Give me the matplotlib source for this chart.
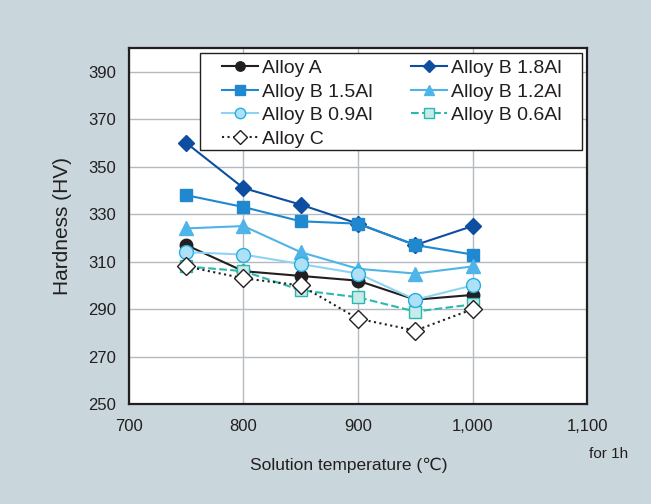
import matplotlib.pyplot as plt
from matplotlib.patches import Rectangle

plt.rcParams['font.family'] = ['Liberation Sans', 'DejaVu Sans']

# solution temperature (C)
temps = [750, 800, 850, 900, 950, 1000]

# hardness (HV)
alloy_a = [317, 306, 304, 302, 294, 296]
alloy_b18 = [360, 341, 334, 326, 317, 325]
alloy_b15 = [338, 333, 327, 326, 317, 313]
alloy_b12 = [324, 325, 314, 307, 305, 308]
alloy_b09 = [314, 313, 309, 305, 294, 300]
alloy_b06 = [308, 306, 298, 295, 289, 292]
alloy_c = [308, 303, 300, 286, 281, 290]

xticks = [700, 800, 900, 1000, 1100]
xticklabels = ['700', '800', '900', '1,000', '1,100']
yticks = [250, 270, 290, 310, 330, 350, 370, 390]

bg = '#c9d6dc'
txt = '#231f20'

fig = plt.figure(figsize=(6.51, 5.04), dpi=100, facecolor=bg)
ax = fig.add_axes([0.198, 0.198, 0.704, 0.707])
ax.set_facecolor('white')

lines = {}
lines['a'], = ax.plot(temps, alloy_a, '-o', color='#231f20', ms=9, lw=1.5,
                      label='Alloy A', zorder=5)
lines['b18'], = ax.plot(temps, alloy_b18, '-D', color='#0d4ea1', ms=8, lw=1.5,
                        label='Alloy B 1.8Al', zorder=4)
lines['b15'], = ax.plot(temps, alloy_b15, '-s', color='#1f88cf', ms=9, lw=1.5,
                        label='Alloy B 1.5Al', zorder=4)
lines['b12'], = ax.plot(temps, alloy_b12, '-^', color='#4fb4e8', ms=9.5, lw=1.5,
                        label='Alloy B 1.2Al', zorder=4)
lines['b09'], = ax.plot(temps, alloy_b09, '-o', color='#8dd3f3', mfc='#aee1f8',
                        mec='#25aedf', mew=1.0, ms=10, lw=1.5,
                        label='Alloy B 0.9Al', zorder=6)
lines['b06'], = ax.plot(temps, alloy_b06, '--s', color='#2bb8ad', mfc='#c6ebea',
                        mec='#2bb8ad', mew=1.0, ms=9, lw=1.5,
                        label='Alloy B 0.6Al', zorder=5)
lines['c'], = ax.plot(temps, alloy_c, ':D', color='#231f20', mfc='white',
                      mec='#231f20', mew=1.0, ms=9, lw=1.5,
                      label='Alloy C', zorder=7)

ax.set_xlim(700, 1100)
ax.set_ylim(250, 400)
ax.set_xticks(xticks)
ax.set_xticklabels(xticklabels)
ax.set_yticks(yticks)
ax.tick_params(axis='x', length=0, labelsize=12, colors=txt, pad=11)
ax.tick_params(axis='y', length=0, labelsize=12, colors=txt, pad=9)
ax.grid(True, color='#b4bac0', lw=1.0)
ax.set_axisbelow(True)
for s in ax.spines.values():
    s.set_color('#231f20')
    s.set_linewidth(1.6)

ax.set_xlabel('Solution temperature (℃)', fontsize=12.5, color=txt,
              labelpad=17, x=0.48)
ax.set_ylabel('Hardness (HV)', fontsize=15, color=txt, labelpad=12)
fig.text(0.965, 0.1, 'for 1h', fontsize=11, color=txt, ha='right', va='center')

# legend box drawn separately (wider side padding than top/bottom)
box = Rectangle((0.155, 0.713), 0.834, 0.273, transform=ax.transAxes,
                facecolor='white', edgecolor='#231f20', lw=1.0, zorder=9)
ax.add_patch(box)

order = ['a', 'b15', 'b09', 'c', 'b18', 'b12', 'b06']
leg = ax.legend([lines[k] for k in order], [lines[k].get_label() for k in order],
                ncol=2, loc='upper left', bbox_to_anchor=(0.203, 0.967),
                fontsize=14, frameon=False, handlelength=1.85,
                handletextpad=0.2, columnspacing=2.0, labelspacing=0.3,
                borderpad=0, borderaxespad=0, markerscale=0.75)
for t in leg.get_texts():
    t.set_color(txt)
leg.set_zorder(10)

fig.savefig('out.png', dpi=100, facecolor=bg)
